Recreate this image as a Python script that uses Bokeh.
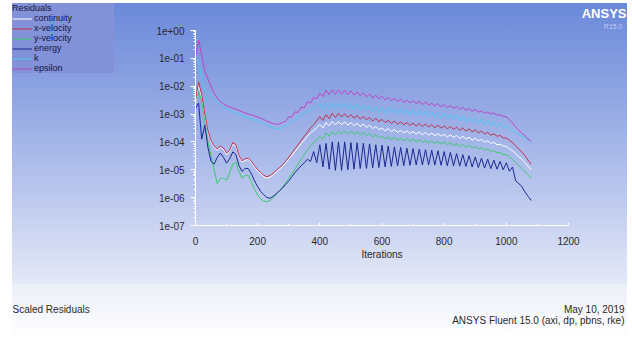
from bokeh.plotting import figure
from bokeh.models import (Legend, LegendItem, Label, FixedTicker, CustomJSTickFormatter,
                          LinearAxis, LogAxis)
from bokeh.embed import file_html
from bokeh.resources import INLINE

# ---------------- data ----------------
iterations = list(range(0, 1081, 10))

continuity = [
    2.5e-3, 1.1e-2, 4.0e-3, 7.9e-4, 2.2e-4, 1.0e-4, 6.3e-5, 5.0e-5, 6.3e-5, 5.4e-5,
    3.5e-5, 4.5e-5, 8.3e-5, 7.1e-5, 2.8e-5, 1.9e-5, 2.2e-5, 2.35e-5, 1.8e-5, 1.26e-5,
    8.9e-6, 7.1e-6, 5.6e-6, 5.0e-6, 5.5e-6, 6.6e-6, 8.3e-6, 1.05e-5, 1.3e-5, 1.74e-5,
    2.4e-5, 3.3e-5, 4.6e-5, 6.3e-5, 8.7e-5, 1.17e-4, 1.6e-4, 2.1e-4, 2.6e-4, 3.2e-4,
    4.3e-4, 3.2e-4, 5.0e-4, 3.8e-4, 5.4e-4, 4.1e-4, 5.4e-4, 4.1e-4, 5.25e-4, 4.0e-4,
    5.0e-4, 3.8e-4, 4.7e-4, 3.55e-4, 4.4e-4, 3.3e-4, 4.0e-4, 3.0e-4, 3.6e-4, 2.75e-4,
    3.2e-4, 2.5e-4, 3.0e-4, 2.35e-4, 2.8e-4, 2.2e-4, 2.6e-4, 2.1e-4, 2.5e-4, 2.0e-4,
    2.4e-4, 1.9e-4, 2.3e-4, 1.8e-4, 2.2e-4, 1.74e-4, 2.1e-4, 1.66e-4, 2.0e-4, 1.6e-4,
    1.9e-4, 1.5e-4, 1.8e-4, 1.45e-4, 1.7e-4, 1.35e-4, 1.6e-4, 1.26e-4, 1.48e-4, 1.17e-4,
    1.35e-4, 1.1e-4, 1.23e-4, 1.0e-4, 1.1e-4, 8.9e-5, 9.8e-5, 7.9e-5, 8.3e-5, 7.1e-5,
    6.9e-5, 5.75e-5, 4.8e-5, 3.8e-5, 3.0e-5, 2.4e-5, 1.8e-5, 1.35e-5, 1.0e-5,
]

x_velocity = [
    3.2e-3, 1.4e-2, 5.0e-3, 1.0e-3, 2.5e-4, 1.12e-4, 7.1e-5, 5.6e-5, 7.1e-5, 6.0e-5,
    4.0e-5, 5.0e-5, 9.5e-5, 7.9e-5, 3.2e-5, 2.1e-5, 2.5e-5, 2.6e-5, 2.0e-5, 1.4e-5,
    1.0e-5, 7.9e-6, 6.3e-6, 5.6e-6, 6.3e-6, 7.6e-6, 9.5e-6, 1.2e-5, 1.5e-5, 2.0e-5,
    2.8e-5, 4.0e-5, 5.6e-5, 7.9e-5, 1.12e-4, 1.6e-4, 2.2e-4, 3.2e-4, 4.2e-4, 5.6e-4,
    8.1e-4, 5.9e-4, 9.5e-4, 6.9e-4, 1.05e-3, 7.6e-4, 1.07e-3, 7.9e-4, 1.02e-3, 7.6e-4,
    9.5e-4, 7.1e-4, 8.9e-4, 6.6e-4, 8.3e-4, 6.2e-4, 7.6e-4, 5.6e-4, 7.1e-4, 5.25e-4,
    6.5e-4, 4.9e-4, 6.0e-4, 4.6e-4, 5.6e-4, 4.3e-4, 5.25e-4, 4.1e-4, 5.0e-4, 3.9e-4,
    4.8e-4, 3.7e-4, 4.6e-4, 3.55e-4, 4.4e-4, 3.4e-4, 4.2e-4, 3.2e-4, 4.0e-4, 3.1e-4,
    3.8e-4, 2.95e-4, 3.6e-4, 2.8e-4, 3.4e-4, 2.6e-4, 3.2e-4, 2.45e-4, 2.95e-4, 2.3e-4,
    2.7e-4, 2.14e-4, 2.45e-4, 1.95e-4, 2.2e-4, 1.74e-4, 1.95e-4, 1.6e-4, 1.7e-4, 1.4e-4,
    1.38e-4, 1.15e-4, 9.5e-5, 7.2e-5, 5.6e-5, 4.3e-5, 3.2e-5, 2.2e-5, 1.6e-5,
]

y_velocity = [
    3.2e-3, 6.3e-3, 2.8e-3, 5.0e-4, 1.0e-4, 3.2e-5, 1.0e-5, 3.2e-6, 5.0e-6, 5.0e-6,
    4.2e-6, 7.9e-6, 1.6e-5, 1.9e-5, 8.9e-6, 5.0e-6, 6.3e-6, 6.3e-6, 3.5e-6, 2.0e-6,
    1.26e-6, 8.9e-7, 7.6e-7, 7.1e-7, 7.9e-7, 1.0e-6, 1.3e-6, 1.74e-6, 2.4e-6, 3.5e-6,
    5.0e-6, 7.2e-6, 1.05e-5, 1.6e-5, 2.4e-5, 3.5e-5, 5.0e-5, 7.1e-5, 9.3e-5, 1.17e-4,
    1.6e-4, 1.26e-4, 2.1e-4, 1.6e-4, 2.4e-4, 1.8e-4, 2.5e-4, 1.9e-4, 2.5e-4, 1.9e-4,
    2.45e-4, 1.86e-4, 2.35e-4, 1.78e-4, 2.2e-4, 1.66e-4, 2.0e-4, 1.5e-4, 1.8e-4, 1.38e-4,
    1.6e-4, 1.3e-4, 1.5e-4, 1.2e-4, 1.45e-4, 1.15e-4, 1.38e-4, 1.1e-4, 1.32e-4, 1.05e-4,
    1.26e-4, 1.0e-4, 1.2e-4, 9.5e-5, 1.15e-4, 9.1e-5, 1.1e-4, 8.7e-5, 1.05e-4, 8.3e-5,
    1.0e-4, 7.9e-5, 9.3e-5, 7.4e-5, 8.7e-5, 6.9e-5, 8.1e-5, 6.5e-5, 7.6e-5, 6.0e-5,
    6.9e-5, 5.6e-5, 6.3e-5, 5.1e-5, 5.6e-5, 4.6e-5, 4.9e-5, 4.1e-5, 4.2e-5, 3.55e-5,
    3.5e-5, 2.9e-5, 2.35e-5, 1.8e-5, 1.4e-5, 1.1e-5, 8.5e-6, 6.6e-6, 5.0e-6,
]

energy = [
    1.6e-3, 2.5e-3, 1.26e-4, 4.0e-4, 6.3e-5, 2.0e-5, 1.6e-5, 2.8e-5, 4.0e-5, 2.8e-5,
    1.74e-5, 2.5e-5, 4.4e-5, 3.5e-5, 1.4e-5, 8.7e-6, 1.12e-5, 1.1e-5, 7.1e-6, 4.0e-6,
    2.5e-6, 1.66e-6, 1.26e-6, 1.0e-6, 9.5e-7, 1.12e-6, 1.4e-6, 1.78e-6, 2.2e-6, 3.0e-6,
    4.0e-6, 5.6e-6, 7.9e-6, 1.07e-5, 1.4e-5, 1.78e-5, 2.4e-5, 2.0e-5, 4.5e-5, 1.78e-5,
    7.9e-5, 1.26e-5, 8.9e-5, 1.05e-5, 1.0e-4, 9.5e-6, 1.0e-4, 9.5e-6, 1.0e-4, 1.0e-5,
    9.5e-5, 1.05e-5, 9.3e-5, 1.1e-5, 8.9e-5, 1.12e-5, 8.5e-5, 1.17e-5, 7.9e-5, 1.2e-5,
    7.6e-5, 1.26e-5, 7.1e-5, 1.32e-5, 6.6e-5, 1.38e-5, 6.3e-5, 1.4e-5, 6.0e-5, 1.45e-5,
    5.75e-5, 1.48e-5, 5.5e-5, 1.5e-5, 5.25e-5, 1.5e-5, 5.0e-5, 1.48e-5, 4.8e-5, 1.45e-5,
    4.5e-5, 1.4e-5, 4.2e-5, 1.38e-5, 3.8e-5, 1.35e-5, 3.5e-5, 1.32e-5, 3.2e-5, 1.26e-5,
    2.9e-5, 1.2e-5, 2.6e-5, 1.15e-5, 2.4e-5, 1.1e-5, 2.2e-5, 1.05e-5, 2.0e-5, 1.0e-5,
    1.78e-5, 8.9e-6, 1.26e-5, 4.0e-6, 3.2e-6, 2.5e-6, 1.6e-6, 1.12e-6, 7.9e-7,
]

k = [
    1.0e-1, 7.9e-2, 2.0e-2, 7.9e-3, 5.6e-3, 4.5e-3, 3.5e-3, 2.6e-3, 2.1e-3, 1.74e-3,
    1.48e-3, 1.3e-3, 1.2e-3, 1.1e-3, 1.0e-3, 8.9e-4, 7.9e-4, 7.2e-4, 6.6e-4, 6.0e-4,
    5.5e-4, 5.0e-4, 4.5e-4, 4.0e-4, 3.5e-4, 3.2e-4, 3.0e-4, 3.0e-4, 3.3e-4, 3.8e-4,
    4.5e-4, 5.4e-4, 6.3e-4, 7.6e-4, 8.9e-4, 1.05e-3, 1.2e-3, 1.38e-3, 1.6e-3, 1.74e-3,
    2.4e-3, 1.5e-3, 2.5e-3, 1.6e-3, 2.5e-3, 1.6e-3, 2.5e-3, 1.6e-3, 2.45e-3, 1.5e-3,
    2.4e-3, 1.48e-3, 2.24e-3, 1.38e-3, 2.14e-3, 1.32e-3, 2.0e-3, 1.23e-3, 1.86e-3, 1.15e-3,
    1.78e-3, 1.1e-3, 1.7e-3, 1.05e-3, 1.62e-3, 1.0e-3, 1.55e-3, 9.5e-4, 1.48e-3, 9.1e-4,
    1.41e-3, 8.7e-4, 1.35e-3, 8.3e-4, 1.29e-3, 7.9e-4, 1.2e-3, 7.6e-4, 1.12e-3, 7.1e-4,
    1.07e-3, 6.8e-4, 1.0e-3, 6.3e-4, 9.3e-4, 5.75e-4, 8.5e-4, 5.25e-4, 7.9e-4, 4.9e-4,
    7.2e-4, 4.6e-4, 6.6e-4, 4.2e-4, 6.0e-4, 3.8e-4, 5.4e-4, 3.5e-4, 4.8e-4, 3.2e-4,
    4.0e-4, 2.8e-4, 2.6e-4, 2.1e-4, 1.9e-4, 1.6e-4, 1.4e-4, 1.17e-4, 1.0e-4,
]

epsilon = [
    1.0e-1, 4.5e-1, 1.3e-1, 3.5e-2, 1.8e-2, 1.0e-2, 5.6e-3, 3.7e-3, 2.8e-3, 2.3e-3,
    2.0e-3, 1.8e-3, 1.6e-3, 1.5e-3, 1.35e-3, 1.2e-3, 1.1e-3, 1.0e-3, 9.3e-4, 8.5e-4,
    7.8e-4, 7.1e-4, 6.3e-4, 5.6e-4, 5.0e-4, 4.6e-4, 4.3e-4, 4.4e-4, 5.0e-4, 5.5e-4,
    7.9e-4, 7.9e-4, 1.2e-3, 1.15e-3, 1.8e-3, 1.66e-3, 2.75e-3, 2.5e-3, 4.0e-3, 3.5e-3,
    5.6e-3, 4.2e-3, 7.2e-3, 5.0e-3, 7.4e-3, 5.2e-3, 7.4e-3, 5.2e-3, 7.1e-3, 5.0e-3,
    6.8e-3, 4.8e-3, 6.3e-3, 4.5e-3, 5.8e-3, 4.2e-3, 5.2e-3, 3.8e-3, 4.8e-3, 3.5e-3,
    4.4e-3, 3.2e-3, 4.0e-3, 3.0e-3, 3.7e-3, 2.8e-3, 3.5e-3, 2.6e-3, 3.2e-3, 2.5e-3,
    3.1e-3, 2.35e-3, 2.9e-3, 2.2e-3, 2.7e-3, 2.1e-3, 2.5e-3, 1.95e-3, 2.35e-3, 1.8e-3,
    2.2e-3, 1.7e-3, 2.0e-3, 1.6e-3, 1.86e-3, 1.48e-3, 1.74e-3, 1.38e-3, 1.6e-3, 1.26e-3,
    1.45e-3, 1.17e-3, 1.3e-3, 1.07e-3, 1.2e-3, 1.0e-3, 1.1e-3, 9.1e-4, 9.5e-4, 8.3e-4,
    7.9e-4, 6.3e-4, 4.8e-4, 3.5e-4, 2.6e-4, 2.1e-4, 1.66e-4, 1.3e-4, 1.05e-4,
]

series_names = ["continuity", "x-velocity", "y-velocity", "energy", "k", "epsilon"]
series_values = [continuity, x_velocity, y_velocity, energy, k, epsilon]
series_colors = ["#ffffff", "#c0304c", "#3ccc6c", "#1c2890", "#52c6f2", "#bc44c4"]

x_ticks = [0, 200, 400, 600, 800, 1000, 1200]
x_minor_ticks = [100, 300, 500, 700, 900, 1100]
y_ticks = [1e-7, 1e-6, 1e-5, 1e-4, 1e-3, 1e-2, 1e-1, 1e0]
y_tick_labels = ["1e+00", "1e-01", "1e-02", "1e-03", "1e-04", "1e-05", "1e-06", "1e-07"]

FONT = "Liberation Sans"
TXT = "#2a2a2a"
W, H = 632, 343

# Plot area in canvas pixels: x 0..1200 -> 195..568 ; y 1e0..1e-7 -> 30..225
px_per_it = (568 - 195) / 1200.0
px_per_dec = (225 - 30) / 7.0
x_lo = -195 / px_per_it
x_hi = (W - 195) / px_per_it
y_hi = 10 ** (30 / px_per_dec)
y_lo = 10 ** (-(H - 30) / px_per_dec)

p = figure(width=W, height=H, x_range=(x_lo, x_hi), y_range=(y_lo, y_hi),
           y_axis_type="log", x_axis_location=None, y_axis_location=None,
           output_backend="svg", toolbar_location=None,
           min_border=0, min_border_left=0, min_border_right=0,
           min_border_top=0, min_border_bottom=0)
p.border_fill_alpha = 0
p.background_fill_alpha = 0
p.outline_line_color = None
p.xgrid.visible = False
p.ygrid.visible = False
p.styles = {
    "background": (
        "linear-gradient(to bottom, #6b89da 0%, #8ca3e2 30%, #b7c4ed 65%, #e4e9f7 100%) 12px 3px / 615px 281px no-repeat, "
        "linear-gradient(to bottom, #eceff9 0%, #f7f8fc 60%, #ffffff 100%) 12px 284px / 615px 54px no-repeat, "
        "#ffffff"
    )
}

renderers = []
for name, vals, col in zip(series_names, series_values, series_colors):
    r = p.line(iterations, vals, line_color=col, line_width=1)
    renderers.append(r)

# axes drawn at fixed data locations
minor_y = [m * 10.0 ** (-e) for e in range(1, 8) for m in range(2, 10)]
yax = LogAxis(fixed_location=0, bounds=(1e-7, 1),
              ticker=FixedTicker(ticks=y_ticks, minor_ticks=minor_y),
              formatter=CustomJSTickFormatter(args=dict(labels=y_tick_labels), code="""
                  const i = Math.round(-Math.log10(tick));
                  return labels[i];
              """))
xax = LinearAxis(fixed_location=1e-7, bounds=(0, 1200),
                 ticker=FixedTicker(ticks=x_ticks, minor_ticks=x_minor_ticks),
                 axis_label="Iterations")
for ax in (xax, yax):
    ax.axis_line_color = "#ffffff"
    ax.major_tick_line_color = "#ffffff"
    ax.minor_tick_line_color = "#ffffff"
    ax.major_label_text_color = TXT
    ax.major_label_text_font = FONT
    ax.major_label_text_font_size = "10px"
    ax.axis_label_text_font = FONT
    ax.axis_label_text_font_size = "10px"
    ax.axis_label_text_font_style = "normal"
    ax.axis_label_text_color = TXT
yax.major_tick_out = 5
yax.major_tick_in = 0
yax.minor_tick_out = 2
yax.minor_tick_in = 0
yax.major_label_standoff = 6
xax.major_tick_out = 0
xax.major_tick_in = 3
xax.minor_tick_out = 0
xax.minor_tick_in = 2
xax.major_label_standoff = 11
xax.axis_label_standoff = 1
p.add_layout(yax, "left")
p.add_layout(xax, "below")

# legend (top-left box)
items = [LegendItem(label=n, renderers=[r]) for n, r in zip(series_names, renderers)]
legend = Legend(items=items, title="Residuals", location=(12, 270),
                background_fill_color="#8391d9", background_fill_alpha=1,
                border_line_color=None, padding=1, margin=0, spacing=0,
                label_height=5, glyph_height=5, glyph_width=20, label_standoff=2,
                label_width=80,
                label_text_font=FONT, label_text_font_size="9px",
                label_text_color="#15153a",
                title_text_font=FONT, title_text_font_size="9px",
                title_text_font_style="normal", title_text_color="#15153a",
                title_standoff=0)
p.add_layout(legend)

# texts (screen units, origin at bottom-left of the canvas)
p.add_layout(Label(x=626, y=H - 20, x_units="screen", y_units="screen", text="ANSYS",
                   text_align="right", text_font=FONT, text_font_size="13px",
                   text_font_style="bold", text_color="#ffffff"))
p.add_layout(Label(x=622, y=H - 29, x_units="screen", y_units="screen", text="R15.0",
                   text_align="right", text_font=FONT, text_font_size="7px",
                   text_color="#c4ccee"))
p.add_layout(Label(x=12, y=H - 314, x_units="screen", y_units="screen", text="Scaled Residuals",
                   text_align="left", text_font=FONT, text_font_size="10px", text_color=TXT))
p.add_layout(Label(x=624, y=H - 314, x_units="screen", y_units="screen", text="May 10, 2019",
                   text_align="right", text_font=FONT, text_font_size="10px", text_color=TXT))
p.add_layout(Label(x=624, y=H - 325, x_units="screen", y_units="screen",
                   text="ANSYS Fluent 15.0 (axi, dp, pbns, rke)",
                   text_align="right", text_font=FONT, text_font_size="10px", text_color=TXT))

open("out.html", "w").write(file_html(p, INLINE))
